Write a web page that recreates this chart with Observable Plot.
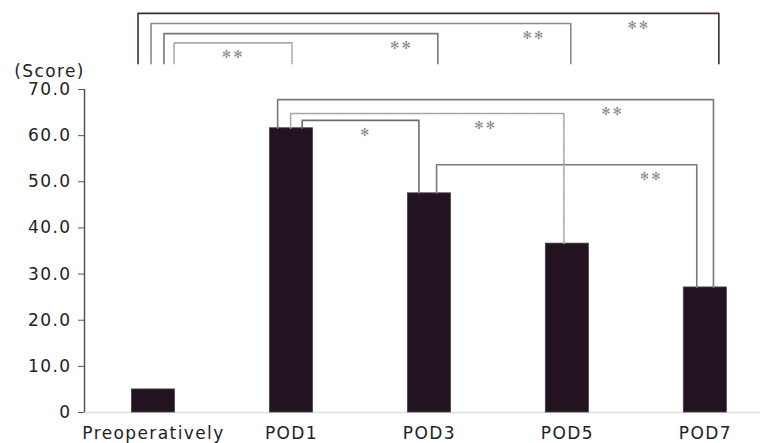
<!DOCTYPE html>
<html><head><meta charset="utf-8">
<script src="https://cdn.jsdelivr.net/npm/d3@7"></script>
<script src="https://cdn.jsdelivr.net/npm/@observablehq/plot@0.6"></script>
<style>body{margin:0;background:#fff}</style>
</head><body><div id="chart"></div>
<script>
// ---- data ----
const categories = ["Preoperatively", "POD1", "POD3", "POD5", "POD7"];
const scores = [5.0, 61.6, 47.5, 36.6, 27.1];
const yTicks = [0, 10, 20, 30, 40, 50, 60, 70];
const yAxisLabel = "(Score)";
// significance comparisons (category indices)
const cmpFrom = [0, 0, 0, 0, 1, 1, 1, 2];
const cmpTo = [4, 3, 2, 1, 4, 3, 2, 4];
const cmpLabel = ["**", "**", "**", "**", "**", "**", "*", "**"];
const cmpLevel = [86.5, 84.3, 82.1, 80.1, 67.8, 64.8, 63.3, 53.7];
const cmpLabelAt = [3.51, 2.75, 1.79, 0.57, 3.32, 2.40, 1.53, 3.60];

// ---- styling ----
const cmpDx1 = [-0.112, -0.018, 0.076, 0.149, -0.100, -0.006, 0.078, 0.052];
const cmpDx2 = [0.098, 0.025, 0.061, 0.004, 0.059, -0.025, -0.076, -0.062];
const cmpColor = ["#3c2c30", "#8a8a8a", "#777777", "#a8a8a8", "#7a7a7a", "#a4a4ac", "#6e6e6e", "#7a7a7a"];
const cmpDashed = [false, false, false, true, false, true, false, false];
const topFoot = 75.6;
const halfBar = 0.156;
const xDomain = [-0.5, 4.4];

const bars = categories.map((c, i) => ({i, c, v: scores[i]}));
const paths = [];
const labels = [];
cmpFrom.forEach((f, k) => {
  const t = cmpTo[k];
  const top = cmpLevel[k];
  const y1 = f === 0 ? topFoot : scores[f];
  const y2 = f === 0 ? topFoot : scores[t];
  const xa = f + cmpDx1[k], xb = t + cmpDx2[k];
  const common = {k, color: cmpColor[k], dashed: cmpDashed[k]};
  paths.push({...common, x: xa, y: y1});
  paths.push({...common, x: xa, y: top});
  paths.push({...common, x: xb, y: top});
  paths.push({...common, x: xb, y: y2});
  labels.push({x: cmpLabelAt[k], y: top, text: cmpLabel[k].split("").map(() => "\u273B").join("\u2009")});
});

const chart = Plot.plot({
  width: 760, height: 443,
  marginLeft: 84, marginRight: 0, marginTop: 89, marginBottom: 31,
  x: {type: "linear", domain: xDomain},
  y: {domain: [0, 70]},
  color: {type: "identity"},
  style: {fontFamily: "DejaVu Sans", fontSize: "17px", color: "#222", background: "white", overflow: "visible"},
  marks: [
    Plot.ruleY([0], {stroke: "#dedede", strokeWidth: 1.5}),
    Plot.rectY(bars, {x1: d => d.i - halfBar, x2: d => d.i + halfBar, y: "v", fill: "#231321", stroke: "#444", strokeWidth: 0.8}),
    Plot.line(paths.filter(d => !d.dashed), {x: "x", y: "y", z: "k", stroke: "color", strokeWidth: 1.6, curve: "linear"}),
    Plot.line(paths.filter(d => d.dashed), {x: "x", y: "y", z: "k", stroke: "color", strokeWidth: 1.6, strokeDasharray: "2,1", curve: "linear"}),
    Plot.text(labels, {x: "x", y: "y", text: "text", dy: 12, fontSize: 11, fill: "#888", lineAnchor: "middle"}),
    Plot.ruleX([xDomain[0]], {y1: 0, y2: 70, stroke: "#555", strokeWidth: 1.5}),
    Plot.axisY({ticks: yTicks, tickFormat: d => d === 0 ? "0" : d.toFixed(1), tickSize: 6, tickPadding: 7, stroke: "#555", label: null}),
    Plot.axisX({ticks: categories.map((c, i) => i), tickFormat: i => categories[i], tickSize: 0, tickPadding: 14, label: null}),
    Plot.text([yAxisLabel], {frameAnchor: "top-left", textAnchor: "middle", dx: -35, dy: -25, fontSize: 17, fill: "#222"})
  ]
});
d3.select(chart).selectAll("text").filter(function() { return !/\u273B/.test(this.textContent); }).style("letter-spacing", "1.4px");
document.getElementById("chart").appendChild(chart);
</script>
</body></html>
